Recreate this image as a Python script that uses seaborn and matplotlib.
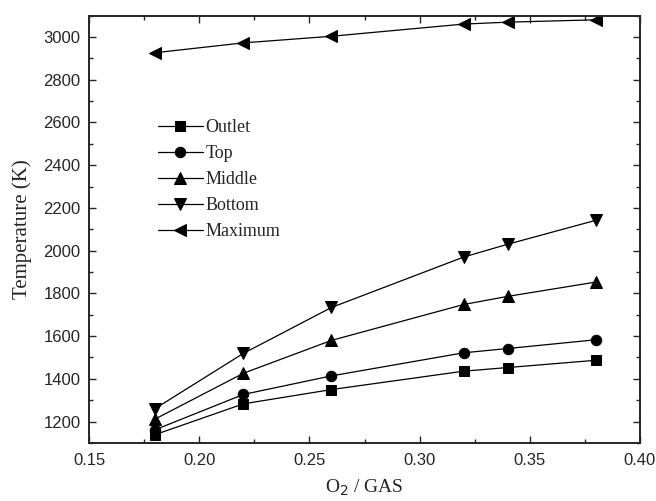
import matplotlib
matplotlib.use("Agg")
import matplotlib.pyplot as plt
import seaborn as sns
import pandas as pd
from matplotlib.ticker import MultipleLocator

sns.set_style("ticks")

x_vals = [0.18, 0.22, 0.26, 0.32, 0.34, 0.38]
outlet = [1139, 1283, 1350, 1436, 1453, 1487]
top = [1162, 1327, 1414, 1522, 1542, 1583]
middle = [1212, 1426, 1580, 1748, 1786, 1853]
bottom = [1261, 1519, 1734, 1970, 2030, 2142]
maximum = [2926, 2972, 3003, 3060, 3069, 3080]

series_names = ["Outlet", "Top", "Middle", "Bottom", "Maximum"]
series_values = [outlet, top, middle, bottom, maximum]
markers = ["s", "o", "^", "v", "<"]
msizes = [6.5, 7.5, 8.5, 8.5, 8.5]

fig = plt.figure(figsize=(6.56, 5.01), dpi=100)
ax = fig.add_axes([0.1357, 0.1158, 0.8399, 0.8532])

for name, vals, m, ms in zip(series_names, series_values, markers, msizes):
    df = pd.DataFrame({"x": x_vals, "y": vals})
    sns.lineplot(data=df, x="x", y="y", ax=ax, color="black", marker=m,
                 markersize=ms, markeredgecolor="black", linewidth=0.9,
                 label=name)

ax.set_xlim(0.15, 0.40)
ax.set_ylim(1100, 3100)
ax.xaxis.set_major_locator(MultipleLocator(0.05))
ax.xaxis.set_minor_locator(MultipleLocator(0.025))
ax.yaxis.set_major_locator(MultipleLocator(200))
ax.yaxis.set_minor_locator(MultipleLocator(100))
ax.set_xticks([0.15, 0.20, 0.25, 0.30, 0.35, 0.40])
ax.set_xticklabels(["0.15", "0.20", "0.25", "0.30", "0.35", "0.40"])
ax.set_yticks(list(range(1200, 3001, 200)))
ax.set_yticklabels([str(v) for v in range(1200, 3001, 200)])

ax.tick_params(which="both", direction="in", top=True, right=True, width=1.0,
               labelsize=12)
ax.tick_params(axis="x", which="major", pad=7)
ax.tick_params(axis="y", which="major", pad=6)
ax.tick_params(which="major", length=5)
ax.tick_params(which="minor", length=3)
for lab in ax.get_xticklabels() + ax.get_yticklabels():
    lab.set_fontfamily("Liberation Sans")
for s in ax.spines.values():
    s.set_linewidth(1.4)

ax.set_xlabel("O$_2$ / GAS", fontfamily="Liberation Serif", fontsize=14, labelpad=7)
ax.set_ylabel("Temperature (K)", fontfamily="Liberation Serif", fontsize=15, labelpad=8)

leg = ax.legend(loc="upper left", bbox_to_anchor=(0.125, 0.758), frameon=False,
                prop={"family": "Liberation Serif", "size": 13},
                handlelength=2.5, handletextpad=0.15, labelspacing=0.5,
                borderpad=0, borderaxespad=0)

fig.savefig("out.png", dpi=100)
